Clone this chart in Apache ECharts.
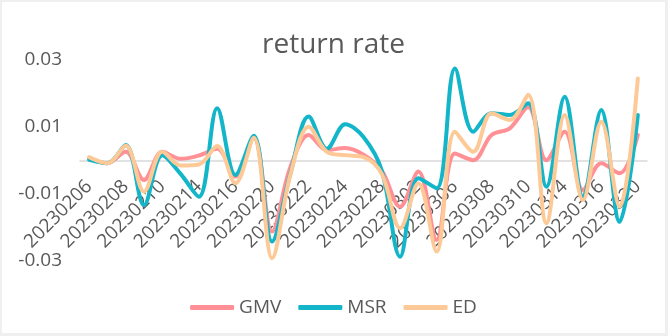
<!DOCTYPE html>
<html>
<head>
<meta charset="utf-8">
<script src="https://cdn.jsdelivr.net/npm/echarts@6/dist/echarts.min.js"></script>
<style>
html,body{margin:0;padding:0;background:#efefef;width:668px;height:336px;overflow:hidden;}
#chart{position:absolute;left:2px;top:2px;width:663px;height:331px;background:#ffffff;}
</style>
</head>
<body>
<div id="chart"></div>
<script>
const categories = ['20230206','20230207','20230208','20230209','20230210','20230213','20230214','20230215','20230216','20230217','20230220','20230221','20230222','20230223','20230224','20230227','20230228','20230301','20230302','20230303','20230306','20230307','20230308','20230309','20230310','20230313','20230314','20230315','20230316','20230317','20230320'];
const gmv = [0.0005,-0.0008,0.0026,-0.0058,0.0026,0.0005,0.0015,0.0035,-0.0048,0.0068,-0.0212,-0.002,0.0076,0.0031,0.0037,0.0017,-0.003,-0.0138,-0.0033,-0.0237,0.0021,0.0001,0.0076,0.0096,0.016,0.0001,0.0086,-0.0088,-0.0008,-0.0038,0.0076];
const msr = [0.0002,-0.0008,0.0046,-0.0133,0.0016,-0.004,-0.0108,0.0156,-0.0043,0.0074,-0.0242,-0.004,0.0131,0.0035,0.0108,0.007,-0.003,-0.0287,-0.0053,-0.0083,0.0275,0.0086,0.0141,0.0136,0.0171,-0.0078,0.019,-0.0108,0.0151,-0.0183,0.0136];
const ed = [0.001,-0.0008,0.0044,-0.0093,0.0026,-0.0015,-0.0012,0.0043,-0.0068,0.0068,-0.0292,-0.0043,0.0101,0.0026,0.0016,0.001,-0.004,-0.0202,-0.0068,-0.0272,0.0086,0.0026,0.0141,0.0121,0.0196,-0.0187,0.0136,-0.0118,0.0116,-0.0138,0.0245];
const yTicks = [-0.03,-0.01,0.01,0.03];

const FONT = '"Open Sans", "Noto Sans", sans-serif';
const GRID_TOP = 58, GRID_BOTTOM = 72, CHART_H = 331;
const plotH = CHART_H - GRID_TOP - GRID_BOTTOM;
const chart = echarts.init(document.getElementById('chart'));
function mk(name, data, color){
  return {
    name: name, type: 'line', data: data, smooth: 0.35,
    symbol: 'none', showSymbol: false,
    lineStyle: {color: color, width: 4, cap: 'round', join: 'round'},
    itemStyle: {color: color},
    emphasis: {disabled: true}
  };
}
chart.setOption({
  animation: false,
  backgroundColor: '#ffffff',
  title: {
    text: 'return rate', left: 'center', top: 24,
    textStyle: {fontFamily: FONT, fontSize: 28, fontWeight: 'normal', color: '#595959'}
  },
  legend: {
    top: 291, left: 'center', itemWidth: 44, itemHeight: 5, itemGap: 17,
    icon: 'roundRect',
    textStyle: {fontFamily: FONT, fontSize: 19, color: '#595959'},
    data: ['GMV','MSR','ED']
  },
  grid: {left: 78, right: 18, top: GRID_TOP, bottom: GRID_BOTTOM, containLabel: false, outerBoundsMode: 'none'},
  xAxis: {
    type: 'category', data: categories, boundaryGap: true,
    offset: -plotH / 2,
    axisLine: {onZero: false, lineStyle: {color: '#d9d9d9', width: 1.5}},
    axisTick: {show: false},
    axisLabel: {interval: 1, rotate: 45, margin: 23, fontFamily: FONT, fontSize: 19, color: '#595959'}
  },
  yAxis: {
    type: 'value', min: -0.03, max: 0.03, interval: 0.02,
    axisLine: {show: false}, axisTick: {show: false}, splitLine: {show: false},
    axisLabel: {
      margin: 18, fontFamily: FONT, fontSize: 19, color: '#595959',
      formatter: function(v){
        for (const t of yTicks) { if (Math.abs(t - v) < 1e-9) return t.toFixed(2); }
        return '';
      }
    }
  },
  series: [mk('GMV', gmv, '#ff9196'), mk('MSR', msr, '#13b5c9'), mk('ED', ed, '#fdca97')]
});
</script>
</body>
</html>
